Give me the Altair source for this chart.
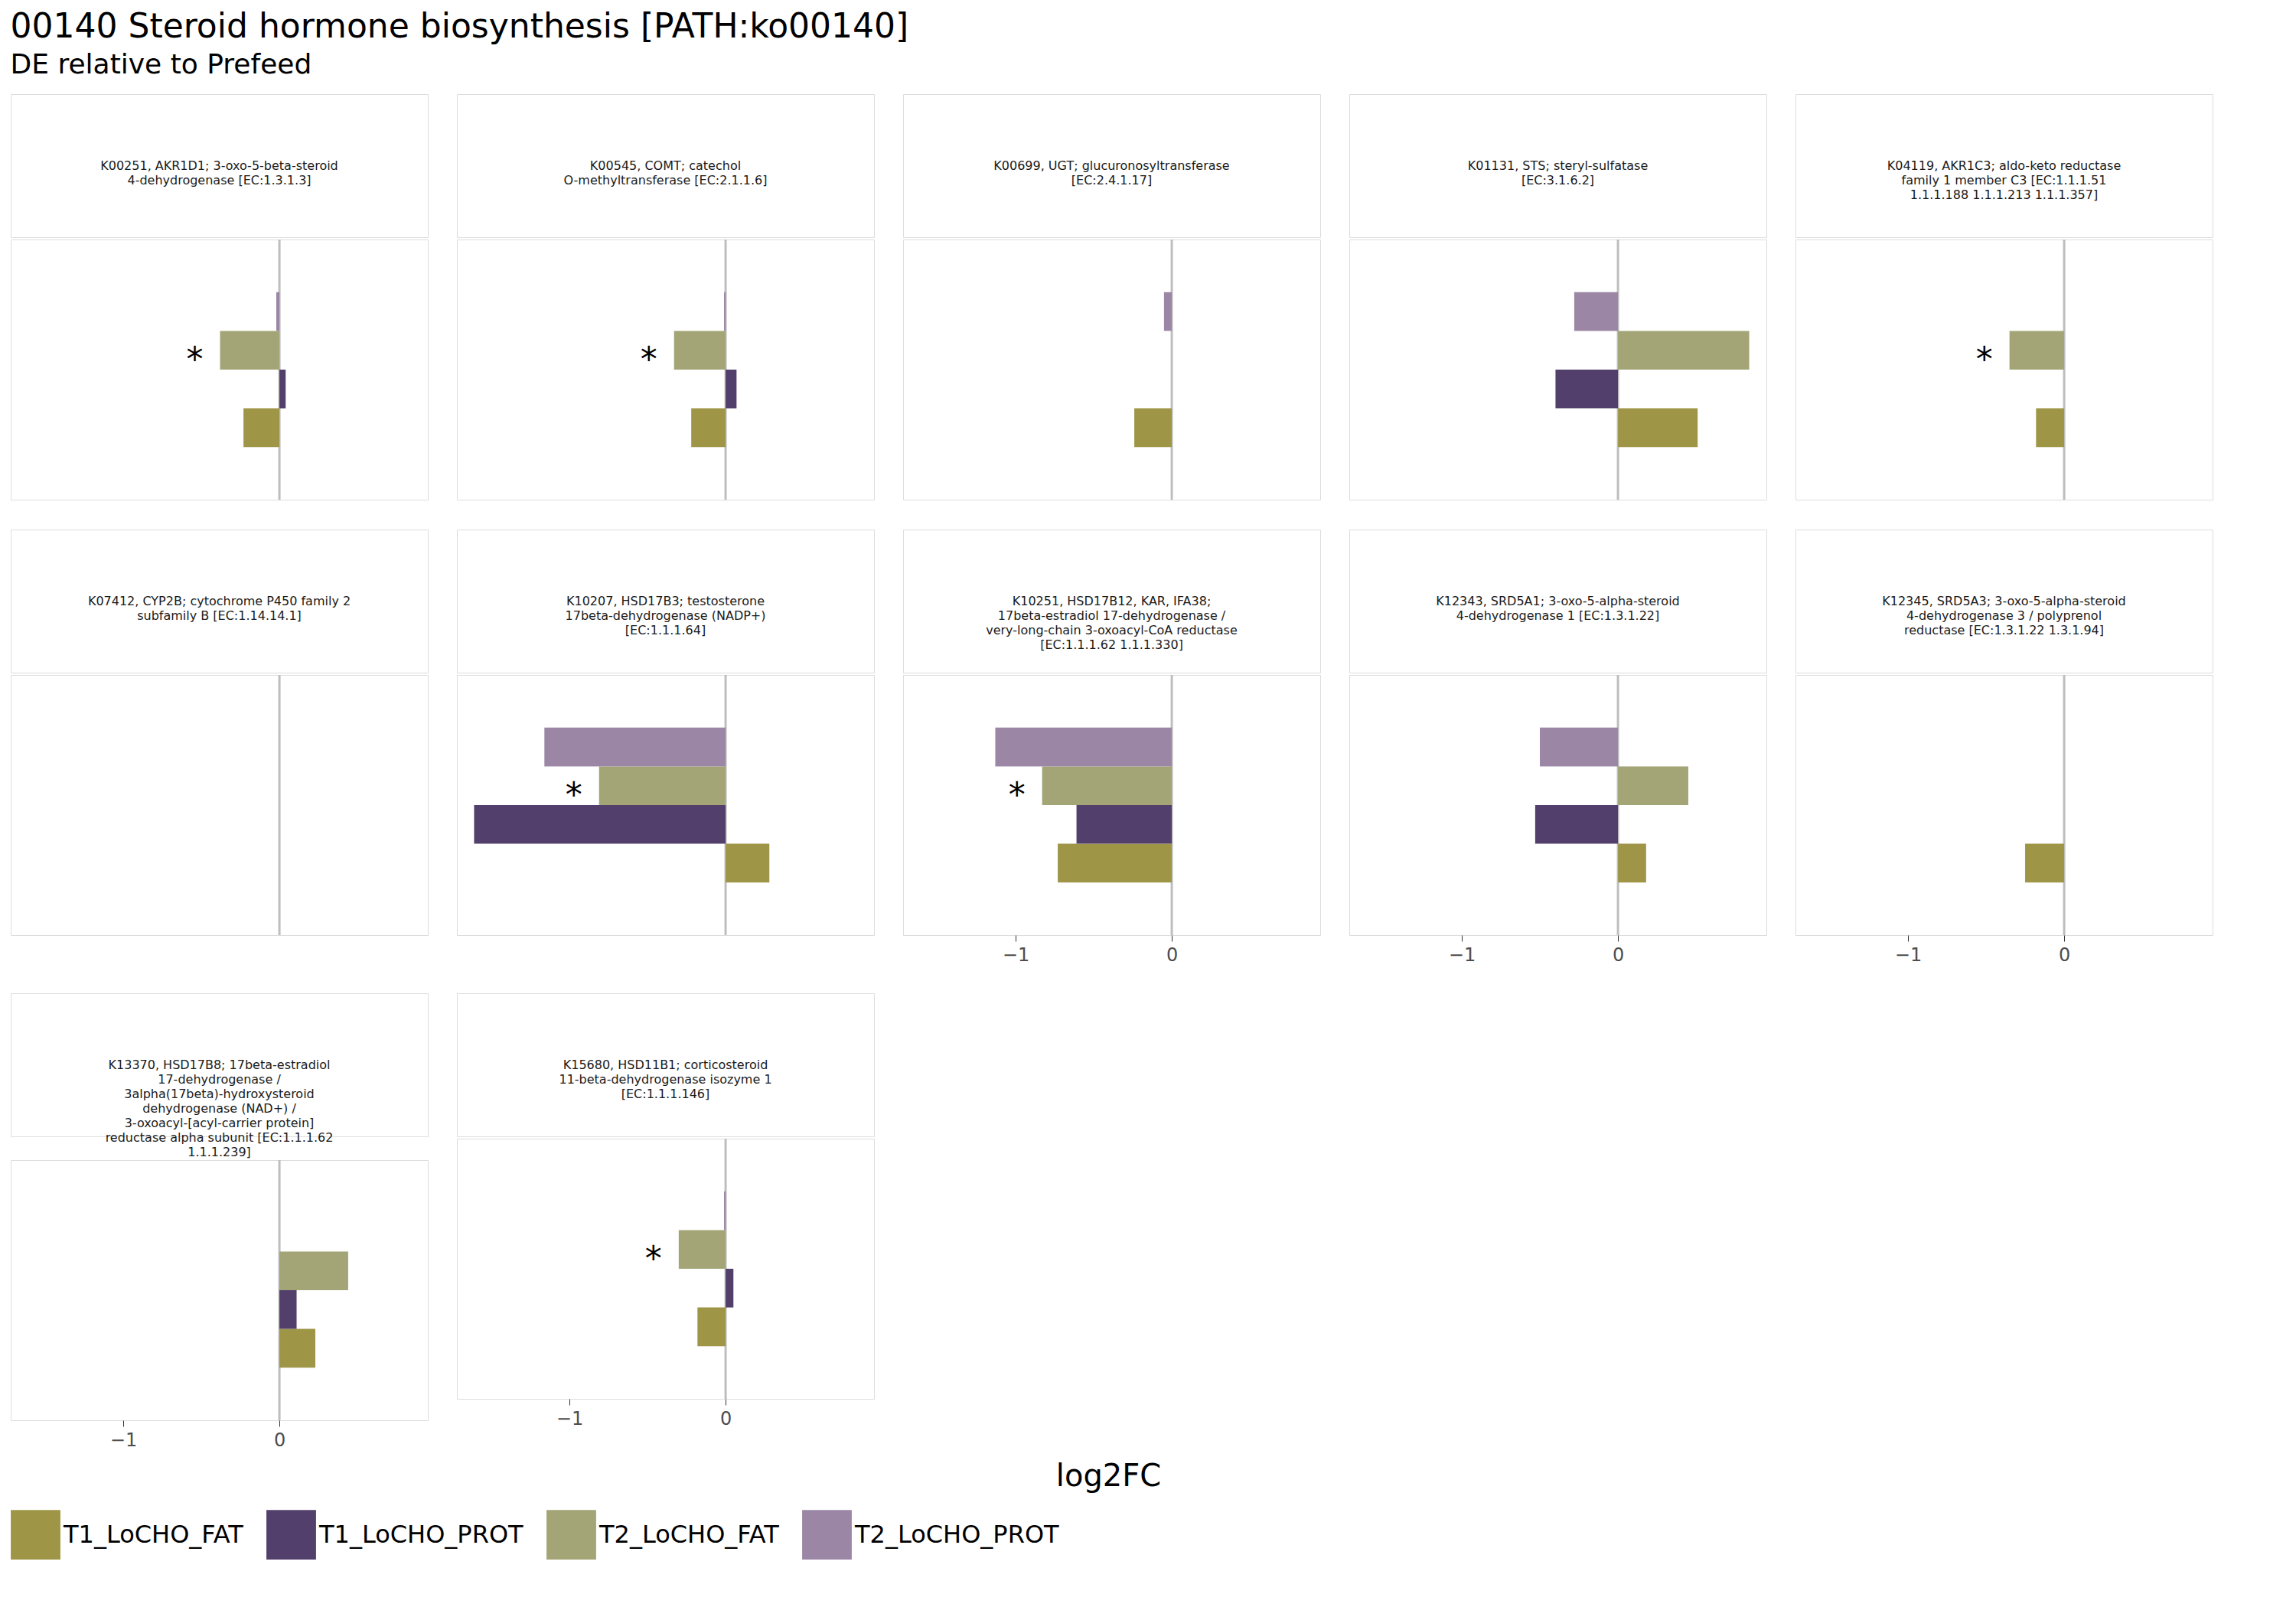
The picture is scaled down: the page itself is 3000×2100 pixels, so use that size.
import altair as alt
import pandas as pd

groups = ["T1_LoCHO_FAT", "T1_LoCHO_PROT", "T2_LoCHO_FAT", "T2_LoCHO_PROT"]
colors = ["#9E9547", "#523F6B", "#A3A576", "#9B87A5"]
y_order = ["pad_top", "T2_LoCHO_PROT", "T2_LoCHO_FAT", "T1_LoCHO_PROT", "T1_LoCHO_FAT", "pad_bottom"]

kos = ["K00251", "K00545", "K00699", "K01131", "K04119", "K07412",
       "K10207", "K10251", "K12343", "K12345", "K13370", "K15680"]
labels = [
    ["K00251, AKR1D1; 3-oxo-5-beta-steroid", "4-dehydrogenase [EC:1.3.1.3]"],
    ["K00545, COMT; catechol", "O-methyltransferase [EC:2.1.1.6]"],
    ["K00699, UGT; glucuronosyltransferase", "[EC:2.4.1.17]"],
    ["K01131, STS; steryl-sulfatase", "[EC:3.1.6.2]"],
    ["K04119, AKR1C3; aldo-keto reductase", "family 1 member C3 [EC:1.1.1.51",
     "1.1.1.188 1.1.1.213 1.1.1.357]"],
    ["K07412, CYP2B; cytochrome P450 family 2", "subfamily B [EC:1.14.14.1]"],
    ["K10207, HSD17B3; testosterone", "17beta-dehydrogenase (NADP+)", "[EC:1.1.1.64]"],
    ["K10251, HSD17B12, KAR, IFA38;", "17beta-estradiol 17-dehydrogenase /",
     "very-long-chain 3-oxoacyl-CoA reductase", "[EC:1.1.1.62 1.1.1.330]"],
    ["K12343, SRD5A1; 3-oxo-5-alpha-steroid", "4-dehydrogenase 1 [EC:1.3.1.22]"],
    ["K12345, SRD5A3; 3-oxo-5-alpha-steroid", "4-dehydrogenase 3 / polyprenol",
     "reductase [EC:1.3.1.22 1.3.1.94]"],
    ["K13370, HSD17B8; 17beta-estradiol", "17-dehydrogenase /",
     "3alpha(17beta)-hydroxysteroid", "dehydrogenase (NAD+) /",
     "3-oxoacyl-[acyl-carrier protein]", "reductase alpha subunit [EC:1.1.1.62",
     "1.1.1.239]"],
    ["K15680, HSD11B1; corticosteroid", "11-beta-dehydrogenase isozyme 1",
     "[EC:1.1.1.146]"],
]

# log2FC per KO (None = missing)
t1_fat = [-0.23, -0.22, -0.24, 0.51, -0.18, None, 0.28, -0.73, 0.18, -0.25, 0.23, -0.18]
t1_prot = [0.04, 0.07, None, -0.40, None, None, -1.61, -0.61, -0.53, None, 0.11, 0.05]
t2_fat = [-0.38, -0.33, None, 0.84, -0.35, None, -0.81, -0.83, 0.45, None, 0.44, -0.30]
t2_prot = [-0.02, -0.01, -0.05, -0.28, None, None, -1.16, -1.13, -0.50, None, None, -0.01]
t2_fat_sig = [True, True, False, False, True, False, True, True, False, False, False, True]

rows = []
for i, ko in enumerate(kos):
    for g, vals in zip(groups, [t1_fat, t1_prot, t2_fat, t2_prot]):
        if vals[i] is not None:
            sig = g == "T2_LoCHO_FAT" and t2_fat_sig[i]
            rows.append({"ko": ko, "group": g, "log2FC": vals[i], "sig": "*" if sig else ""})
df = pd.DataFrame(rows)

FONT = "DejaVu Sans"
W, STRIP_H, PLOT_H = 545, 187, 340
x_scale = alt.Scale(domain=[-1.72, 0.95], nice=False, zero=False)
y_scale = alt.Scale(domain=y_order, paddingInner=0, paddingOuter=0.36)
color_scale = alt.Scale(domain=groups, range=colors)

bottom_panels = {"K10251", "K12343", "K12345", "K13370", "K15680"}

panels = []
for ko, lab in zip(kos, labels):
    strip = (
        alt.Chart(pd.DataFrame({"k": [0]}))
        .mark_text(text=lab, fontSize=16, font=FONT, lineHeight=19, color="#1a1a1a")
        .encode(x=alt.value(W / 2), y=alt.value(STRIP_H / 2))
        .properties(width=W, height=STRIP_H)
    )
    if ko in bottom_panels:
        axis = alt.Axis(values=[-1, 0], title=None, grid=False, domain=False,
                        labelFontSize=24, labelFont=FONT, labelColor="#4d4d4d",
                        tickColor="#333", tickSize=8, labelPadding=6)
    else:
        axis = alt.Axis(values=[-1, 0], title=None, grid=False, domain=False,
                        labels=False, ticks=False)
    base = alt.Chart(df).transform_filter(alt.datum.ko == ko)
    zero = (
        alt.Chart(pd.DataFrame({"x": [0]}))
        .mark_rule(color="#bebebe", strokeWidth=3)
        .encode(x=alt.X("x:Q", scale=x_scale, axis=axis))
    )
    bars = base.mark_bar().encode(
        x=alt.X("log2FC:Q", scale=x_scale, axis=axis),
        x2=alt.datum(0),
        y=alt.Y("group:N", scale=y_scale, axis=None),
        color=alt.Color("group:N", scale=color_scale,
                        legend=alt.Legend(title=None, orient="bottom", direction="horizontal",
                                          symbolType="square", symbolSize=4200,
                                          symbolStrokeWidth=0, labelFontSize=32,
                                          labelFont=FONT, columnPadding=30,
                                          symbolOpacity=1, labelLimit=400)),
    )
    stars = base.transform_filter(alt.datum.sig == "*").mark_text(
        fontSize=44, font=FONT, align="right", dx=-22, dy=14, color="black"
    ).encode(
        x=alt.X("log2FC:Q", scale=x_scale, axis=axis),
        y=alt.Y("group:N", scale=y_scale, axis=None),
        text="sig:N",
    )
    plot = alt.layer(zero, bars, stars).properties(width=W, height=PLOT_H)
    panels.append(alt.vconcat(strip, plot, spacing=0))

grid = alt.concat(*panels, columns=5, spacing=36)
xlabel = (
    alt.Chart(pd.DataFrame({"t": ["log2FC"]}))
    .mark_text(fontSize=40, font=FONT, color="black")
    .encode(text="t:N", x=alt.value(5 * W / 2 + 72), y=alt.value(25))
    .properties(width=5 * W + 144, height=50, view=alt.ViewConfig(stroke=None))
)

chart = (
    alt.vconcat(grid, xlabel, spacing=10)
    .properties(
        title=alt.TitleParams(
            "00140 Steroid hormone biosynthesis [PATH:ko00140]",
            subtitle="DE relative to Prefeed", anchor="start", fontSize=44,
            subtitleFontSize=36, font=FONT, subtitleFont=FONT, fontWeight="normal",
            color="black", subtitleColor="black", subtitlePadding=10, offset=20,
        )
    )
    .configure_view(stroke="#333333", strokeWidth=2)
    .configure_legend(padding=20)
    .configure(background="white")
)

chart.save("out.html", embed_options={"renderer": "svg", "actions": False})
